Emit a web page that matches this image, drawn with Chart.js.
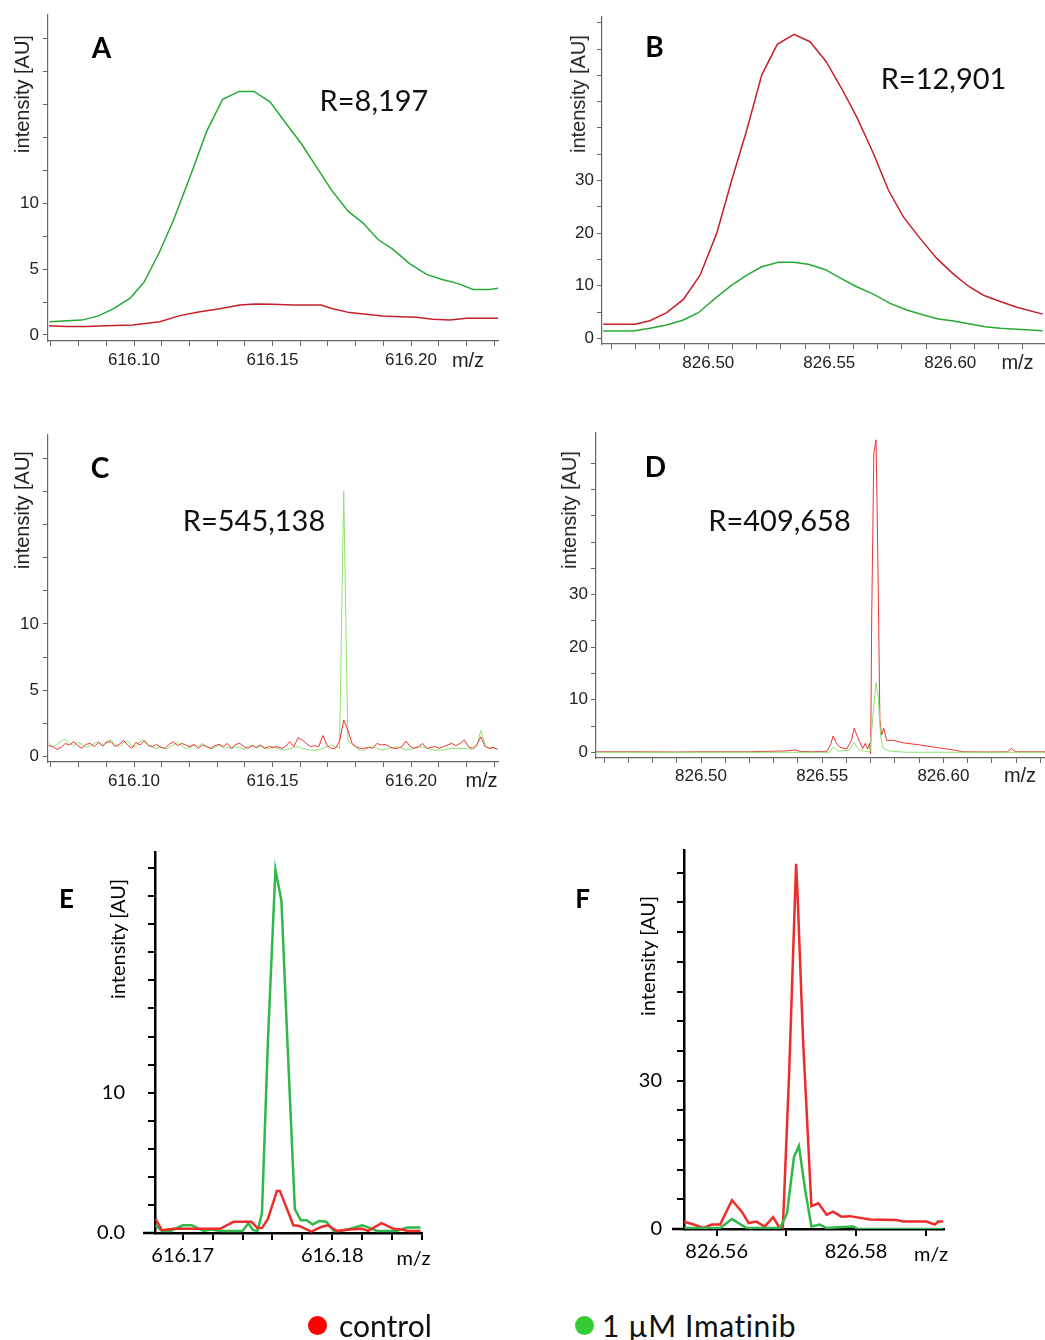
<!DOCTYPE html>
<html>
<head>
<meta charset="utf-8">
<script src="https://cdn.jsdelivr.net/npm/chart.js@4.4.0/dist/chart.umd.min.js"></script>
<style>
  body { margin: 0; background: #fff; }
  #page { position: relative; width: 1045px; height: 1340px; overflow: hidden; background: #fff; }
  .txt { position: absolute; transform: translate(-50%, -50%); line-height: 1; white-space: nowrap; color: #111; }
  .rot { transform: translate(-50%, -50%) rotate(-90deg); }
  .dot { position: absolute; border-radius: 50%; }
</style>
</head>
<body>
<div id="page"></div>
<script>
// ---- data (m/z vs intensity [AU]) ----

// A: m/z 616.15, wide window
var aMzCtrl = [616.0693, 616.0755, 616.0827, 616.0899, 616.0996, 616.1093, 616.1165, 616.1238, 616.131, 616.1382, 616.1437, 616.15, 616.1573, 616.1675, 616.1717, 616.1778, 616.1838, 616.1898, 616.1959, 616.2019, 616.2079, 616.214, 616.22, 616.2316];
var aCtrl   = [0.7, 0.65, 0.65, 0.7, 0.76, 1.0, 1.47, 1.77, 2.0, 2.28, 2.35, 2.33, 2.28, 2.28, 2.0, 1.7, 1.57, 1.44, 1.39, 1.34, 1.19, 1.14, 1.27, 1.27];
var aMzIma  = [616.0695, 616.0812, 616.0872, 616.0926, 616.0986, 616.1036, 616.1092, 616.1142, 616.1202, 616.1263, 616.132, 616.1379, 616.1433, 616.1491, 616.1551, 616.1605, 616.1659, 616.1713, 616.1773, 616.1827, 616.1881, 616.1935, 616.1996, 616.2056, 616.2116, 616.217, 616.2224, 616.2284, 616.2316];
var aIma    = [1.0, 1.13, 1.45, 2.0, 2.8, 4.0, 6.3, 8.7, 12.0, 15.5, 17.9, 18.5, 18.5, 17.7, 16.0, 14.5, 12.75, 11.0, 9.4, 8.5, 7.25, 6.5, 5.4, 4.6, 4.2, 3.9, 3.45, 3.45, 3.55];

// B: m/z 826.55, wide window
var bMzCtrl = [826.4566, 826.4697, 826.4759, 826.4828, 826.4897, 826.4966, 826.5035, 826.5097, 826.5159, 826.5221, 826.5285, 826.5354, 826.542, 826.5486, 826.5551, 826.5613, 826.5682, 826.5744, 826.5806, 826.5875, 826.5944, 826.6013, 826.6075, 826.6137, 826.6206, 826.6275, 826.6382];
var bCtrl   = [2.66, 2.66, 3.35, 4.87, 7.4, 12.0, 20.0, 30.1, 39.6, 50.1, 55.9, 57.8, 56.4, 52.7, 47.5, 42.1, 35.2, 28.2, 23.1, 19.0, 15.2, 12.2, 9.9, 8.2, 7.0, 5.9, 4.6];
var bMzIma  = [826.4566, 826.469, 826.4759, 826.4828, 826.4897, 826.4959, 826.5028, 826.5097, 826.5159, 826.5221, 826.5289, 826.5351, 826.5413, 826.5482, 826.5544, 826.5613, 826.5682, 826.5751, 826.582, 826.5889, 826.5951, 826.6013, 826.6082, 826.6144, 826.6206, 826.6275, 826.6382];
var bIma    = [1.39, 1.39, 1.9, 2.53, 3.48, 4.87, 7.6, 10.1, 12.0, 13.6, 14.45, 14.45, 14.07, 13.1, 11.5, 9.8, 8.4, 6.65, 5.4, 4.43, 3.67, 3.29, 2.72, 2.2, 1.9, 1.71, 1.45];

// C: m/z 616.15, high resolution scan (sampled every 0.0015 from cStart)
var cStart = 616.0692, cStep = 0.0015;
var cCtrl = [0.83, 0.76, 0.55, 0.7, 1.0, 0.88, 1.13, 0.83, 0.63, 0.93, 1.0, 0.76, 1.08, 0.83, 1.08, 1.13, 0.76, 0.93, 1.24, 0.88,
             0.63, 1.08, 0.88, 1.18, 0.83, 0.76, 0.93, 0.7, 0.63, 0.93, 1.13, 0.83, 1.0, 0.88, 0.76, 0.93, 0.63, 0.88, 0.76, 0.63,
             0.83, 0.93, 0.76, 1.0, 0.63, 0.93, 1.0, 0.76, 0.63, 0.83, 0.7, 0.88, 0.63, 0.76, 0.7,
             0.76, 0.63, 0.76, 1.13, 0.76, 1.43, 1.26, 1.0, 0.76, 0.83, 0.76, 1.6, 0.83, 0.63, 0.63, 1.18, 2.77, 2.0, 1.0, 0.76,
             0.63, 0.63, 0.7, 0.63, 1.0, 0.88, 0.93, 0.76, 0.63, 0.63, 0.76, 1.18, 0.76, 0.63, 0.76, 1.0, 0.63, 0.7, 0.76, 0.63,
             0.76, 0.88, 1.0, 0.83, 1.0, 1.26, 0.76, 0.63, 0.88, 1.5, 0.76, 0.63, 0.7, 0.55];
var cIma  = [1.0, 0.76, 0.93, 1.18, 1.32, 1.0, 0.83, 1.08, 0.93, 0.7, 0.83, 1.0, 1.13, 0.76, 1.18, 1.26, 0.93, 0.76, 1.08, 1.18,
             0.83, 0.76, 1.13, 1.24, 0.88, 0.7, 0.63, 0.76, 0.58, 0.7, 0.88, 1.08, 0.83, 0.63, 0.7, 0.88, 0.76, 1.0, 0.76, 0.58,
             0.7, 0.88, 0.63, 0.74, 0.58, 0.76, 0.7, 0.55, 0.76, 0.88, 0.63, 0.83, 0.7, 0.58, 0.74,
             0.63, 0.55, 0.5, 0.58, 0.7, 0.76, 0.63, 0.55, 0.5, 0.5, 0.52, 0.63, 0.76, 0.88, 0.76, 0.63, 20.0, 1.2, 0.93, 0.63,
             0.5, 0.5, 0.7, 0.76, 0.63, 0.5, 0.55, 0.63, 0.7, 0.76, 0.63, 0.52, 0.5, 0.63, 0.7, 0.76, 0.63, 0.52, 0.5, 0.5,
             0.5, 0.58, 0.63, 0.63, 0.63, 0.63, 0.63, 0.55, 0.76, 2.0, 0.93, 0.63, 0.63, 0.63];

// D: m/z 826.55, high resolution scan
var dMzCtrl = [826.4567, 826.47, 826.49, 826.5, 826.52, 826.535, 826.5387, 826.541, 826.546, 826.552, 826.5535, 826.5545, 826.5558, 826.5573, 826.5601, 826.5621, 826.5632, 826.5645, 826.5667, 826.5677, 826.5687, 826.5695, 826.57, 826.5704, 826.5713, 826.5722, 826.5727, 826.5731, 826.5738, 826.5745, 826.5754, 826.5766, 826.5793, 826.5834, 826.5903, 826.5972, 826.604, 826.6082, 826.62, 826.6265, 826.6281, 826.6295, 826.6419];
var dCtrl   = [0.1, 0.1, 0.05, 0.1, 0.1, 0.25, 0.45, 0.15, 0.1, 0.2, 1.5, 3.1, 1.8, 0.95, 0.6, 2.3, 4.6, 3.0, 0.7, 1.7, 0.6, 1.7, -0.3, 25, 57, 59.5, 45, 31.5, 6.2, 3.3, 4.6, 2.2, 2.3, 1.8, 1.4, 0.9, 0.45, 0.1, 0.05, 0.1, 0.75, 0.1, 0.1];
var dMzIma  = [826.4567, 826.553, 826.5545, 826.5565, 826.561, 826.5632, 826.5652, 826.568, 826.5697, 826.5708, 826.5722, 826.5731, 826.5741, 826.5752, 826.578, 826.585, 826.6419];
var dIma    = [0, 0, 1.07, 0.2, 0.4, 1.83, 0.5, 0.2, 0, 6.3, 13.3, 10.6, 3.0, 0.75, 0.2, 0, 0];

// E: zoom of C
var eMzCtrl = [616.1682, 616.1686, 616.1694, 616.1716, 616.1725, 616.1734, 616.1746, 616.175, 616.1753, 616.1757, 616.1763, 616.1765, 616.1774, 616.1778, 616.1786, 616.1793, 616.1797, 616.1803, 616.1812, 616.182, 616.1824, 616.1833, 616.1841, 616.1846, 616.1851, 616.1859];
var eCtrl   = [1.0, 0.2, 0.3, 0.3, 0.3, 0.8, 0.8, 0.35, 0.35, 1.0, 3.0, 3.0, 0.55, 0.5, 0.1, 0.45, 0.55, 0.15, 0.25, 0.3, 0.15, 0.7, 0.3, 0.25, 0.15, 0.15];
var eMzIma  = [616.1682, 616.1686, 616.1692, 616.17, 616.1706, 616.1714, 616.1719, 616.1725, 616.174, 616.1744, 616.1747, 616.175, 616.1753, 616.1757, 616.1762, 616.1766, 616.177, 616.1775, 616.1779, 616.1783, 616.1787, 616.1791, 616.1796, 616.1801, 616.1805, 616.1812, 616.182, 616.1824, 616.183, 616.1843, 616.185, 616.1859];
var eIma    = [0.55, 0.15, 0.15, 0.55, 0.55, 0.15, 0.25, 0.15, 0.15, 0.7, 0.2, 0.15, 1.4, 13.7, 25.9, 23.7, 13.7, 1.7, 0.9, 0.9, 0.6, 0.85, 0.8, 0.15, 0.15, 0.3, 0.55, 0.4, 0.15, 0.15, 0.4, 0.4];

// F: zoom of D
var fMzCtrl = [826.5553, 826.5567, 826.5581, 826.5593, 826.5605, 826.5622, 826.5636, 826.5646, 826.5657, 826.5669, 826.5681, 826.569, 826.5695, 826.5704, 826.5714, 826.5716, 826.5724, 826.5736, 826.5746, 826.5758, 826.5767, 826.5779, 826.5791, 826.582, 826.5858, 826.5868, 826.5901, 826.5913, 826.5918, 826.5925];
var fCtrl   = [1.5, 0.9, 0.2, 0.9, 0.9, 5.8, 3.5, 1.2, 1.5, 0.5, 2.4, 0.3, 0.3, 31.4, 73.8, 68, 38.2, 4.6, 5.2, 2.9, 3.5, 2.5, 2.6, 1.9, 1.8, 1.5, 1.5, 0.9, 1.5, 1.5];
var fMzIma  = [826.5553, 826.5605, 826.5622, 826.5643, 826.5691, 826.5701, 826.5711, 826.5718, 826.5727, 826.5736, 826.5748, 826.5758, 826.5782, 826.5796, 826.5803, 826.5925];
var fIma    = [0.2, 0.2, 2.0, 0.2, 0.2, 3.2, 14.6, 16.8, 7.9, 0.5, 0.9, 0.2, 0.4, 0.5, 0, 0];

// tick labels
var xLabels616 = ['616.10', '616.15', '616.20'];
var xLabels826 = ['826.50', '826.55', '826.60'];
var yLabelsAC  = ['0', '5', '10'];
var yLabelsBD  = ['0', '10', '20', '30'];
var xLabelsE   = ['616.17', '616.18'];
var yLabelsE   = ['0.0', '10'];
var xLabelsF   = ['826.56', '826.58'];
var yLabelsF   = ['0', '30'];

var seriesNames = ['control', '1 µM Imatinib'];

// ---- helpers ----
var page = document.getElementById('page');

function pairs(mz, y) {
  return mz.map(function (m, i) { return { x: m, y: y[i] }; });
}

function gridTicks(step, limit) {
  return function (scale) {
    var top = limit == null ? scale.max : Math.min(scale.max, limit);
    var k0 = Math.ceil(scale.min / step - 1e-6);
    var k1 = Math.floor(top / step + 1e-6);
    var ticks = [];
    for (var k = k0; k <= k1; k++) ticks.push({ value: k * step });
    scale.ticks = ticks;
  };
}

function labelFor(list, step) {
  return function (v) {
    for (var i = 0; i < list.length; i++) {
      if (Math.abs(parseFloat(list[i]) - v) < step / 10) return list[i];
    }
    return '';
  };
}

// little piece of x axis sticking out left of the y axis (E, F)
var axisStub = {
  id: 'axisStub',
  afterDraw: function (chart, args, o) {
    if (!o.len) return;
    var a = chart.chartArea, ctx = chart.ctx;
    ctx.save();
    ctx.strokeStyle = o.color;
    ctx.lineWidth = o.width;
    ctx.beginPath();
    ctx.moveTo(a.left - o.len, a.bottom);
    ctx.lineTo(a.left + 1, a.bottom);
    ctx.stroke();
    ctx.restore();
  }
};

var thin = { font: 'Liberation Sans', size: 17, text: '#222', tick: 5, tickColor: '#666', tickWidth: 1, axis: '#666', axisWidth: 1.2, stub: 0 };
var bold = { font: 'Lato', size: 20, text: '#000', tick: 7, tickColor: '#000', tickWidth: 2, axis: '#000', axisWidth: 2.5, stub: 12 };

function panel(p) {
  var c = document.createElement('canvas');
  c.width = p.box[2];
  c.height = p.box[3];
  c.style.cssText = 'position:absolute;left:' + p.box[0] + 'px;top:' + p.box[1] + 'px;';
  page.appendChild(c);
  var st = p.style;

  function axis(a, size, isX) {
    return {
      type: 'linear',
      min: a.min,
      max: a.max,
      afterBuildTicks: gridTicks(a.step, a.limit),
      afterFit: function (s) {
        if (isX) s.height = size; else s.width = size;
        // keep the plot box where it is: no extra room for end labels
        s.paddingTop = 0; s.paddingBottom = 0; s.paddingLeft = 0; s.paddingRight = 0;
      },
      grid: { drawOnChartArea: false, drawTicks: true, tickLength: st.tick, color: st.tickColor, lineWidth: st.tickWidth },
      border: { display: true, color: st.axis, width: st.axisWidth },
      ticks: {
        autoSkip: false, maxRotation: 0, padding: a.pad, color: st.text,
        font: { family: st.font, size: st.size },
        callback: labelFor(a.labels, a.step)
      }
    };
  }

  new Chart(c, {
    type: 'line',
    data: {
      datasets: p.sets.map(function (s) {
        return {
          label: s.label, data: s.data, borderColor: s.color, borderWidth: p.line,
          pointRadius: 0, tension: 0, fill: false
        };
      })
    },
    options: {
      responsive: false,
      animation: false,
      events: [],
      layout: { padding: { left: 0, top: p.area[1] - p.box[1], right: p.box[0] + p.box[2] - p.area[2], bottom: 0 } },
      plugins: {
        legend: { display: false },
        tooltip: { enabled: false },
        axisStub: { len: st.stub, color: st.axis, width: st.axisWidth }
      },
      scales: {
        x: axis(p.x, p.box[1] + p.box[3] - p.area[3], true),
        y: axis(p.y, p.area[0] - p.box[0], false)
      }
    },
    plugins: [axisStub]
  });
}

function text(str, cx, cy, css, cls) {
  var d = document.createElement('div');
  d.className = 'txt' + (cls ? ' ' + cls : '');
  d.textContent = str;
  d.style.cssText = 'left:' + cx + 'px;top:' + cy + 'px;' + css;
  page.appendChild(d);
}

// ---- panels ----
var cMz = cCtrl.map(function (_, i) { return +(cStart + i * cStep).toFixed(4); });

panel({
  box: [0, 0, 520, 380], area: [48, 15, 498, 341], style: thin, line: 1.5,
  x: { min: 616.06895, max: 616.2314, step: 0.01, labels: xLabels616, pad: 4 },
  y: { min: -0.456, max: 24.3, step: 2.5, labels: yLabelsAC, pad: 4 },
  sets: [
    { label: seriesNames[0], data: pairs(aMzCtrl, aCtrl), color: '#c4202a' },
    { label: seriesNames[1], data: pairs(aMzIma, aIma), color: '#25aa33' }
  ]
});

panel({
  box: [520, 0, 525, 380], area: [602, 17, 1045, 344], style: thin, line: 1.5,
  x: { min: 826.45607, max: 826.63913, step: 0.01, labels: xLabels826, pad: 4 },
  y: { min: -1.08, max: 61.1, step: 5, labels: yLabelsBD, pad: 3 },
  sets: [
    { label: seriesNames[0], data: pairs(bMzCtrl, bCtrl), color: '#c4202a' },
    { label: seriesNames[1], data: pairs(bMzIma, bIma), color: '#25aa33' }
  ]
});

panel({
  box: [0, 420, 520, 380], area: [48, 435, 498, 762], style: thin, line: 1,
  x: { min: 616.06895, max: 616.2314, step: 0.01, labels: xLabels616, pad: 4 },
  y: { min: -0.4, max: 24.24, step: 2.5, labels: yLabelsAC, pad: 4 },
  sets: [
    { label: seriesNames[0], data: pairs(cMz, cCtrl), color: '#ee3333' },
    { label: seriesNames[1], data: pairs(cMz, cIma), color: '#8ee070' }
  ]
});

panel({
  box: [520, 420, 525, 380], area: [596, 433, 1045, 758], style: thin, line: 1,
  x: { min: 826.45668, max: 826.64191, step: 0.01, labels: xLabels826, pad: 3 },
  y: { min: -1.09, max: 60.8, step: 5, limit: 55, labels: yLabelsBD, pad: 3 },
  sets: [
    { label: seriesNames[1], data: pairs(dMzIma, dIma), color: '#8ee070' },
    { label: seriesNames[0], data: pairs(dMzCtrl, dCtrl), color: '#ee3333' }
  ]
});

panel({
  box: [40, 840, 420, 440], area: [155, 852, 422, 1233], style: bold, line: 2.5,
  x: { min: 616.16815, max: 616.186, step: 0.002, labels: xLabelsE, pad: 4 },
  y: { min: 0, max: 27.15, step: 2, labels: yLabelsE, pad: 23 },
  sets: [
    { label: seriesNames[0], data: pairs(eMzCtrl, eCtrl), color: '#ee2c2c' },
    { label: seriesNames[1], data: pairs(eMzIma, eIma), color: '#30b84a' }
  ]
});

panel({
  box: [560, 840, 420, 440], area: [684, 850, 944, 1229], style: bold, line: 2.5,
  x: { min: 826.55531, max: 826.59263, step: 0.01, labels: xLabelsF, pad: 4 },
  y: { min: 0, max: 76.6, step: 6, labels: yLabelsF, pad: 15 },
  sets: [
    { label: seriesNames[1], data: pairs(fMzIma, fIma), color: '#30b84a' },
    { label: seriesNames[0], data: pairs(fMzCtrl, fCtrl), color: '#ee2c2c' }
  ]
});

// ---- text ----
var letterCss = 'font-family:Lato;font-weight:bold;font-size:28px;color:#000;';
var rCss = 'font-family:Lato;font-size:29px;color:#111;';
var titleThin = 'font-family:"Liberation Sans";font-size:20px;color:#222;';
var titleBold = 'font-family:Lato;font-size:20px;color:#000;';
var mzThin = 'font-family:"Liberation Sans";font-size:20px;color:#222;';
var mzBold = 'font-family:Lato;font-size:20px;color:#000;';

text('A', 101.5, 47, letterCss);
text('B', 654.5, 46, letterCss);
text('C', 100, 467, letterCss);
text('D', 655.5, 466, letterCss);
text('E', 66.5, 898, letterCss + 'font-size:26px;');
text('F', 582.5, 897.5, letterCss + 'font-size:26px;');

text('R=8,197', 374, 99, rCss);
text('R=12,901', 943.5, 77, rCss);
text('R=545,138', 254, 519, rCss);
text('R=409,658', 779.5, 519, rCss);

text('intensity [AU]', 22, 93.5, titleThin, 'rot');
text('intensity [AU]', 577.5, 93.5, titleThin, 'rot');
text('intensity [AU]', 22, 509.5, titleThin, 'rot');
text('intensity [AU]', 569, 509.5, titleThin, 'rot');
text('intensity [AU]', 116.5, 938.5, titleBold, 'rot');
text('intensity [AU]', 646.5, 955.5, titleBold, 'rot');

text('m/z', 468, 360, mzThin);
text('m/z', 1017.5, 362, mzThin);
text('m/z', 481.5, 780, mzThin);
text('m/z', 1020, 775, mzThin);
text('m/z', 413.5, 1256.5, mzBold);
text('m/z', 931, 1253, mzBold);

// shared legend
var legendCss = 'font-family:Lato;font-size:30px;color:#111;transform:translate(0,-50%);';
[[317, '#ff0000', seriesNames[0], 339, 0], [584, '#33cc33', seriesNames[1], 602, 0.6]].forEach(function (l) {
  var dot = document.createElement('div');
  dot.className = 'dot';
  dot.style.cssText = 'left:' + (l[0] - 9.5) + 'px;top:' + (1325 - 9.5) + 'px;width:19px;height:19px;background:' + l[1] + ';';
  page.appendChild(dot);
  text(l[2], l[3], 1325, legendCss + 'letter-spacing:' + l[4] + 'px;');
});
</script>
</body>
</html>
